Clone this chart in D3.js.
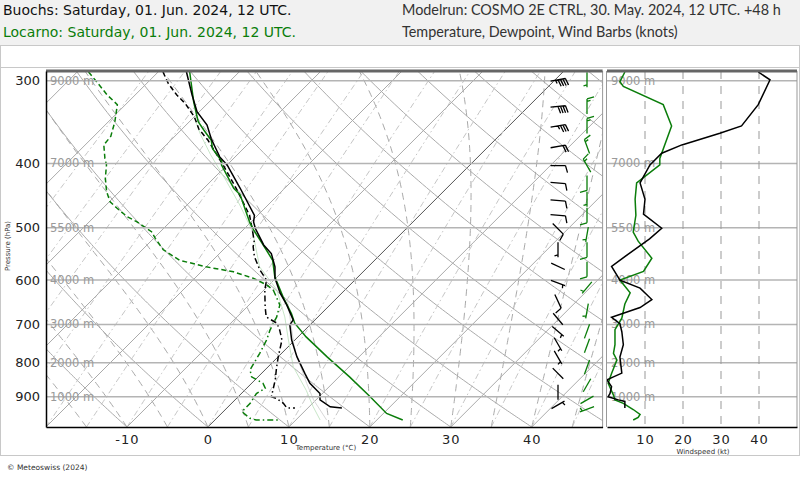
<!DOCTYPE html>
<html>
<head>
<meta charset="utf-8">
<script src="https://cdn.jsdelivr.net/npm/d3@7"></script>
<style>
  body { margin: 0; background: #fff; }
  svg { display: block; font-family: "DejaVu Sans", sans-serif; }
</style>
</head>
<body>
<script>
// ---- profiles (pressure hPa / temperature degC) ----
var buochsTP = [291, 315, 334, 350, 367, 391, 402, 436, 479, 490, 501, 531, 547, 573, 596, 628, 654, 689, 701, 739, 783, 830, 859, 890, 910, 932, 936];
var buochsT  = [-46.5, -43.0, -40.3, -37.4, -35.2, -31.9, -30.0, -25.5, -20.4, -19.7, -18.7, -15.6, -13.6, -11.5, -10.1, -7.6, -5.35, -2.7, -2.5, -0.4, 2.3, 5.35, 7.2, 9.7, 10.5, 12.6, 14.2];

var buochsTdP = [291, 303, 315, 325, 340, 355, 369, 402, 436, 479, 507, 526, 534, 553, 579, 600, 621, 658, 682, 697, 714, 739, 783, 815, 849, 900, 905, 921, 936, 936];
var buochsTd  = [-49.4, -47.3, -44.9, -42.7, -40.0, -37.9, -35.4, -30.5, -26.0, -21.0, -18.6, -17.1, -16.7, -15.3, -13.0, -10.9, -9.9, -7.8, -6.4, -4.3, -3.1, -1.6, 0.0, 1.2, 2.5, 4.1, 4.9, 6.4, 7.4, 8.4];

var locarnoTP = [291, 323, 346, 356, 369, 380, 397, 402, 436, 446, 490, 504, 526, 560, 593, 636, 674, 697, 731, 783, 840, 900, 954, 976];
var locarnoT  = [-46.1, -41.9, -38.9, -37.2, -35.0, -33.8, -31.1, -30.7, -26.3, -24.7, -20.2, -18.7, -16.2, -12.6, -10.3, -6.8, -3.7, -2.1, 1.0, 6.0, 11.3, 16.3, 20.4, 23.2];

var locarnoTdP = [291, 301, 315, 326, 346, 364, 375, 393, 402, 421, 441, 457, 467, 481, 490, 507, 519, 540, 560, 573, 583, 596, 610, 621, 654, 682, 714, 739, 774, 820, 840, 859, 874, 890, 921, 948, 970, 976, 976];
var locarnoTd  = [-58.6, -56.4, -53.5, -51.0, -49.2, -47.9, -47.7, -45.9, -44.9, -43.4, -41.6, -39.9, -38.3, -36.0, -34.1, -31.1, -29.8, -27.4, -24.1, -20.0, -16.0, -12.8, -10.3, -8.85, -6.2, -5.1, -4.3, -3.5, -2.7, -1.85, -0.8, 1.4, 2.3, 1.85, 2.3, 2.3, 4.1, 5.1, 7.8];

// faint parcel curves
var parcelGreenP = [341, 362, 388, 426, 462, 507, 573, 621, 682, 739, 811, 880, 932, 976];
var parcelGreenT = [-39.9, -37.0, -33.3, -28.0, -23.5, -18.6, -13.4, -8.4, -4.1, -0.8, 3.1, 7.6, 10.5, 13.0];
var parcelGrayP = [644, 765, 859, 910, 976];
var parcelGrayT = [-5.8, 1.2, 6.8, 9.7, 13.8];

// wind speed profiles (kt)
var buochsWsP = [291, 299, 326, 351, 360, 375, 386, 402, 428, 453, 477, 501, 520, 548, 572, 600, 617, 642, 660, 683, 698, 718, 751, 784, 829, 840, 849, 869, 890, 900, 910, 915, 936];
var buochsWs  = [39.8, 42.9, 39.8, 35.4, 29.7, 19.7, 14.4, 11.3, 8.7, 10.0, 9.6, 14.4, 11.2, 5.6, 1.2, 3.4, 8.7, 11.8, 8.7, 1.2, 3.4, 3.9, 4.3, 3.4, 3.9, 1.7, 0.0, 1.2, 0.8, 0.3, 3.0, 4.7, 4.7];
var locarnoWsP = [291, 301, 306, 326, 351, 393, 402, 428, 453, 479, 508, 524, 556, 582, 600, 627, 652, 685, 713, 751, 774, 792, 830, 859, 895, 910, 921, 941, 957, 967, 976];
var locarnoWs  = [4.7, 3.4, 4.3, 14.8, 17.0, 13.9, 13.9, 7.8, 7.4, 7.6, 6.9, 8.2, 11.8, 9.6, 3.4, 6.1, 4.7, 3.9, 2.1, 2.1, 1.7, 2.6, 1.2, 0.3, 1.7, 2.1, 4.3, 6.9, 8.7, 8.2, 6.9];

// wind barbs: pressure, direction (deg, from), speed (kt)
var buochsBarbP   = [299, 328, 351, 377, 403, 428, 455, 479, 502, 540, 572, 606, 646, 687, 717, 750, 785, 830, 886, 926];
var buochsBarbDir = [80, 85, 80, 80, 90, 95, 95, 95, 135, 180, 115, 110, 155, 140, 130, 150, 150, 135, 180, 60];
var buochsBarbSpd = [43, 40, 35, 20, 11, 9, 10, 10, 8, 6, 2, 7, 11, 2, 4, 4, 4, 1, 2, 4];
var locarnoBarbP   = [299, 328, 351, 377, 403, 428, 453, 479, 512, 540, 578, 616, 668, 717, 754, 812, 865, 910, 940];
var locarnoBarbDir = [180, 0, 0, 340, 330, 180, 180, 180, 190, 180, 180, 220, 190, 200, 200, 200, 210, 240, 250];
var locarnoBarbSpd = [4, 15, 17, 14, 14, 8, 7, 8, 7, 8, 10, 5, 4, 2, 2, 2, 1, 2, 7];

// axes
var isobars = [300, 400, 500, 600, 700, 800, 900];
var isobarHeights = ["9000 m", "7000 m", "5500 m", "4000 m", "3000 m", "2000 m", "1000 m"];
var tempTicks = [-10, 0, 10, 20, 30, 40];
var windTicks = [10, 20, 30, 40];

var width = 800, height = 480;
var green = "#0a7d0a";

var svg = d3.select("body").append("svg")
    .attr("width", width)
    .attr("height", height);

// ---- page frame / header ----
svg.append("rect").attr("x", 0).attr("y", 0).attr("width", width).attr("height", 45).attr("fill", "#f1f1f1");
svg.append("rect").attr("x", 0.5).attr("y", 45.5).attr("width", width - 1).attr("height", 22).attr("fill", "#fff").attr("stroke", "#c8c8c8");
svg.append("rect").attr("x", 0.5).attr("y", 67.5).attr("width", width - 1).attr("height", 388).attr("fill", "#fff").attr("stroke", "#c8c8c8");

svg.append("text").attr("x", 3).attr("y", 15).attr("font-size", 14).attr("fill", "#111")
    .text("Buochs: Saturday, 01. Jun. 2024, 12 UTC.");
svg.append("text").attr("x", 3).attr("y", 37).attr("font-size", 14).attr("fill", green)
    .text("Locarno: Saturday, 01. Jun. 2024, 12 UTC.");
svg.append("text").attr("x", 402).attr("y", 15).attr("fill", "#333")
    .style("font-family", "Lato, sans-serif").attr("font-size", 14.4)
    .text("Modelrun: COSMO 2E CTRL, 30. May. 2024, 12 UTC. +48 h");
svg.append("text").attr("x", 402).attr("y", 37).attr("fill", "#333")
    .style("font-family", "Lato, sans-serif").attr("font-size", 14.4)
    .text("Temperature, Dewpoint, Wind Barbs (knots)");
svg.append("text").attr("x", 7).attr("y", 470).attr("font-size", 7.5).attr("fill", "#333")
    .text("\u00a9 Meteoswiss (2024)");

// ---- scales ----
var y = d3.scaleLog().domain([290, 1000]).range([71, 427]);
var x = d3.scaleLinear().domain([-20, 48.75]).range([46, 602.6]);
var w = d3.scaleLinear().domain([0, 50]).range([607, 797]);

function X(t, p) { return x(t) + (y(1000) - y(p)); }

var skewLine = d3.line()
    .x(function(d) { return X(d[0], d[1]); })
    .y(function(d) { return y(d[1]); });

function pairs(ps, ts) { return ps.map(function(p, i) { return [ts[i], p]; }); }

svg.append("clipPath").attr("id", "plot")
  .append("rect").attr("x", 46).attr("y", 71).attr("width", 556.6).attr("height", 356);
svg.append("clipPath").attr("id", "wind")
  .append("rect").attr("x", 607).attr("y", 71).attr("width", 190).attr("height", 356);

var g = svg.append("g").attr("clip-path", "url(#plot)");

// ---- thermodynamic background ----
var Rd = 287.04, Cp = 1005.7, Lv = 2.501e6, eps = 0.622;
function es(tc) { return 6.112 * Math.exp(17.67 * tc / (tc + 243.5)); }
var pGrid = d3.range(1000, 284, -5);

// isotherms
d3.range(-60, 50, 10).forEach(function(t) {
  g.append("path").attr("d", skewLine([[t, 1000], [t, 285]]))
      .attr("fill", "none").attr("stroke", t === 0 ? "#555" : "#aaa").attr("stroke-width", 1);
});
// dry adiabats
d3.range(-20, 140, 10).forEach(function(th) {
  var pts = pGrid.map(function(p) { return [(th + 273.15) * Math.pow(p / 1000, Rd / Cp) - 273.15, p]; });
  g.append("path").attr("d", skewLine(pts))
      .attr("fill", "none").attr("stroke", "#aaa").attr("stroke-width", 1);
});
// saturated adiabats
d3.range(-20, 50, 5).forEach(function(t0) {
  var T = t0 + 273.15, pts = [];
  pGrid.forEach(function(p) {
    pts.push([T - 273.15, p]);
    var e = es(T - 273.15), rs = eps * e / (p - e);
    var dTdp = (Rd * T + Lv * rs) / (Cp + Lv * Lv * rs * eps / (Rd * T * T)) / p;
    T -= dTdp * 5;
  });
  g.append("path").attr("d", skewLine(pts))
      .attr("fill", "none").attr("stroke", "#a8a8a8").attr("stroke-width", 1).attr("stroke-dasharray", "7,5");
});
// mixing ratio lines
d3.range(-40, 50, 5).forEach(function(td0) {
  var e0 = es(td0), r = eps * e0 / (1000 - e0);
  var pts = pGrid.map(function(p) {
    var e = r * p / (eps + r), l = Math.log(e / 6.112);
    return [243.5 * l / (17.67 - l), p];
  });
  g.append("path").attr("d", skewLine(pts))
      .attr("fill", "none").attr("stroke", "#c4c4c4").attr("stroke-width", 1).attr("stroke-dasharray", "6,3,1.5,3");
});

// isobars (both panels)
isobars.forEach(function(p, i) {
  svg.append("line").attr("x1", 46).attr("x2", 602.6).attr("y1", y(p)).attr("y2", y(p))
      .attr("stroke", "#b4b4b4").attr("stroke-width", 1.5);
  svg.append("line").attr("x1", 607).attr("x2", 797).attr("y1", y(p)).attr("y2", y(p))
      .attr("stroke", "#b4b4b4").attr("stroke-width", 1.5);
  [50, 611].forEach(function(tx) {
    svg.append("text").attr("x", tx).attr("y", y(p) + 4).attr("font-size", 11.5).attr("fill", "#9a9a9a")
        .text(isobarHeights[i]);
  });
});

// wind panel grid
windTicks.forEach(function(v) {
  svg.append("line").attr("x1", w(v)).attr("x2", w(v)).attr("y1", 71).attr("y2", 427)
      .attr("stroke", "#999").attr("stroke-dasharray", "8,7");
});

// ---- profiles ----
g.append("path").attr("d", skewLine(pairs(parcelGreenP, parcelGreenT)))
    .attr("fill", "none").attr("stroke", "#c8e6c8").attr("stroke-width", 1);
g.append("path").attr("d", skewLine(pairs(parcelGrayP, parcelGrayT)))
    .attr("fill", "none").attr("stroke", "#d8d8d8").attr("stroke-width", 1);

function dewpoint(ps, ts, split, color) {
  var all = pairs(ps, ts);
  var upper = all.filter(function(d) { return d[1] <= split; });
  var lower = all.filter(function(d) { return d[1] >= split; });
  if (upper.length && lower.length && upper[upper.length - 1][1] !== lower[0][1]) upper.push(lower[0]);
  g.append("path").attr("d", skewLine(upper)).attr("fill", "none").attr("stroke", color)
      .attr("stroke-width", 1.5).attr("stroke-dasharray", "5,3");
  g.append("path").attr("d", skewLine(lower)).attr("fill", "none").attr("stroke", color)
      .attr("stroke-width", 1.5).attr("stroke-dasharray", "6,3,1.5,3");
}
dewpoint(locarnoTdP, locarnoTd, 621, green);
dewpoint(buochsTdP, buochsTd, 500, "#000");

g.append("path").attr("d", skewLine(pairs(locarnoTP, locarnoT)))
    .attr("fill", "none").attr("stroke", green).attr("stroke-width", 1.5);
g.append("path").attr("d", skewLine(pairs(buochsTP, buochsT)))
    .attr("fill", "none").attr("stroke", "#000").attr("stroke-width", 1.5);

// ---- wind barbs (centred on the level) ----
function barb(mx, my, dir, spd, color) {
  var a = dir * Math.PI / 180, L = 15;
  var sx = Math.sin(a), sy = -Math.cos(a), px = -sy, py = sx;
  var cx = mx - sx * L / 2, cy = my - sy * L / 2;
  var path = d3.path();
  path.moveTo(cx, cy); path.lineTo(cx + sx * L, cy + sy * L);
  var s = Math.round(spd / 5) * 5, pos = L, bl = 7;
  while (s >= 10) {
    var bx = cx + sx * pos, by = cy + sy * pos;
    path.moveTo(bx, by); path.lineTo(bx + px * bl + sx * 2, by + py * bl + sy * 2);
    s -= 10; pos -= 2.5;
  }
  if (s >= 5) {
    if (pos === L) pos -= 2.5;
    var hx = cx + sx * pos, hy = cy + sy * pos;
    path.moveTo(hx, hy); path.lineTo(hx + px * bl / 2 + sx, hy + py * bl / 2 + sy);
  }
  svg.append("path").attr("d", path.toString()).attr("fill", "none")
      .attr("stroke", color).attr("stroke-width", 1.3);
}
buochsBarbP.forEach(function(p, i) { barb(558, y(p), buochsBarbDir[i], buochsBarbSpd[i], "#000"); });
locarnoBarbP.forEach(function(p, i) { barb(587, y(p), locarnoBarbDir[i], locarnoBarbSpd[i], green); });

// ---- wind speed panel ----
var wsLine = d3.line().x(function(d) { return w(d[0]); }).y(function(d) { return y(d[1]); });
var gw = svg.append("g").attr("clip-path", "url(#wind)");
gw.append("path").attr("d", wsLine(pairs(locarnoWsP, locarnoWs)))
    .attr("fill", "none").attr("stroke", green).attr("stroke-width", 1.5);
gw.append("path").attr("d", wsLine(pairs(buochsWsP, buochsWs)))
    .attr("fill", "none").attr("stroke", "#000").attr("stroke-width", 1.5);

// ---- frames & axes ----
[602.6, 606.5, 797].forEach(function(bx) {
  svg.append("line").attr("x1", bx).attr("x2", bx).attr("y1", 71).attr("y2", 427).attr("stroke", "#999");
});
svg.append("line").attr("x1", 46).attr("x2", 602.6).attr("y1", 71).attr("y2", 71).attr("stroke", "#666").attr("stroke-width", 3);
svg.append("line").attr("x1", 607).attr("x2", 797).attr("y1", 71).attr("y2", 71).attr("stroke", "#666").attr("stroke-width", 3);

var fmt = function(d) { return String(d); };
var xAxis = svg.append("g").attr("transform", "translate(0,427)")
    .call(d3.axisBottom(x).tickValues(tempTicks).tickSize(0).tickPadding(8).tickFormat(fmt));
var wAxis = svg.append("g").attr("transform", "translate(0,427)")
    .call(d3.axisBottom(w).tickValues(windTicks).tickSize(0).tickPadding(8).tickFormat(fmt));
var yAxis = svg.append("g").attr("transform", "translate(46,0)")
    .call(d3.axisLeft(y).tickValues(isobars).tickSize(0).tickPadding(6).tickFormat(fmt));
[xAxis, wAxis, yAxis].forEach(function(a) {
  a.selectAll("text").attr("font-size", 13).attr("font-family", "DejaVu Sans, sans-serif").attr("fill", "#222");
  a.select(".domain").attr("stroke", "#000").attr("stroke-width", 1.5);
});
xAxis.selectAll("text").attr("letter-spacing", 1);
wAxis.selectAll("text").attr("letter-spacing", 1);

svg.append("text").attr("x", 326).attr("y", 450).attr("text-anchor", "middle").attr("font-size", 7).attr("fill", "#333")
    .text("Temperature (\u00b0C)");
svg.append("text").attr("x", 703).attr("y", 454).attr("text-anchor", "middle").attr("font-size", 7).attr("fill", "#333")
    .text("Windspeed (kt)");
svg.append("text").attr("transform", "translate(10,246) rotate(-90)").attr("text-anchor", "middle")
    .attr("font-size", 7).attr("fill", "#333").text("Pressure (hPa)");
</script>
</body>
</html>
